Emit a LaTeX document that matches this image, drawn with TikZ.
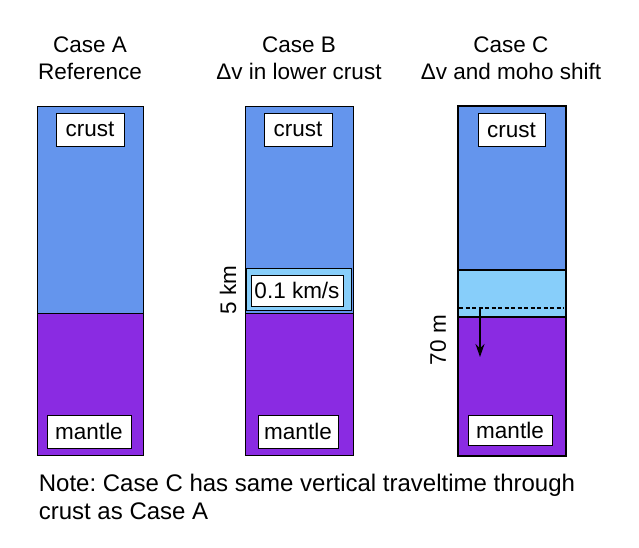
\documentclass[tikz,border=0pt]{standalone}
\usepackage{fontspec}
\setmainfont{Liberation Sans}
\usetikzlibrary{arrows.meta}
\definecolor{crustblue}{RGB}{100,149,237}
\definecolor{mantlepurple}{RGB}{138,43,226}
\definecolor{layerblue}{RGB}{135,206,250}
\tikzset{
  labelbox/.style={draw, fill=white, inner sep=0pt, minimum height=33pt},
  txt/.style={font=\fontsize{22.5}{27.5}\selectfont, align=center},
}
\frenchspacing
\begin{document}
\begin{tikzpicture}[x=1pt, y=-1pt, line width=1pt]
    \useasboundingbox (0,0) rectangle (639,547);
    % titles
    \node[txt] (titleA) at (90,58) {Case A\\Reference};
    \node[txt] (titleB) at (299,58) {Case B\\Δv in lower crust};
    \node[txt] (titleC) at (511,58) {Case C\\Δv and moho shift};
    % case A
    \draw[fill=crustblue] (37,106) rectangle (143,313);
    \draw[fill=mantlepurple] (37,313) rectangle (143,455);
    \node[labelbox, txt, minimum width=68pt] (crustA) at (90,129.5) {crust};
    \node[labelbox, txt, minimum width=84pt] (mantleA) at (89,431.5) {mantle};
    % case B
    \draw[fill=crustblue] (245,106) rectangle (353,313);
    \draw[fill=mantlepurple] (245,313) rectangle (353,455);
    \draw[fill=layerblue] (246,268) rectangle (351,310);
    \node[labelbox, txt, minimum width=68pt] (crustB) at (298,129.5) {crust};
    \node[labelbox, txt, minimum width=92pt, minimum height=31pt] (layerB) at (297,290.5) {0.1 km/s};
    \node[labelbox, txt, minimum width=80pt] (mantleB) at (298,431.5) {mantle};
    \node[txt, rotate=90] (thickB) at (228,290) {5 km};
    % case C
    \draw[line width=1.3pt, fill=crustblue] (458,106) rectangle (566,270);
    \draw[line width=1.3pt, fill=layerblue] (458,270) rectangle (566,317);
    \draw[line width=1.3pt, fill=mantlepurple] (458,317) rectangle (566,456);
    \node[labelbox, txt, minimum width=67pt] (crustC) at (511.5,130) {crust};
    \node[labelbox, txt, minimum width=84pt, minimum height=30pt] (mantleC) at (510,430) {mantle};
    \coordinate (mohoOld) at (480,308);
    \coordinate (mohoNew) at (480,357);
    \draw[line width=1.5pt, dash pattern=on 4pt off 2.5pt] (459,308) -- (564,308);
    \draw[-{Stealth[length=13pt,width=9pt]}, line width=1.5pt] (mohoOld) -- (mohoNew);
    \node[txt, rotate=90] (shiftC) at (438,340) {70 m};
    % note
    \node[txt, font=\fontsize{24}{28}\selectfont, align=left, anchor=north west] (note) at (35,470)
        {Note: Case C has same vertical traveltime through\\crust as Case A};
\end{tikzpicture}
\end{document}
